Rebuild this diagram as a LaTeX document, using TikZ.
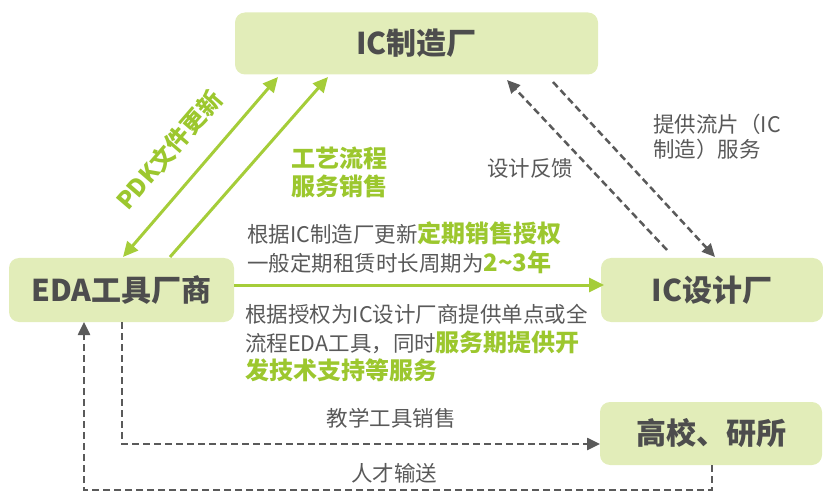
\documentclass[tikz,border=0pt]{standalone}
\usepackage{fontspec}
\setmainfont{Noto Sans CJK SC}
\usetikzlibrary{arrows.meta}
\definecolor{boxfill}{HTML}{E2EDB9}
\definecolor{grn}{HTML}{A5CD39}
\definecolor{gtext}{HTML}{9CC72E}
\definecolor{gry}{HTML}{595959}
\definecolor{boxtext}{HTML}{4D4D4D}
\definecolor{dline}{HTML}{5A5A5A}
\newcommand{\gbold}[1]{{\fontsize{24}{28}\selectfont\bfseries\color{gtext}#1}}
\begin{document}
\begin{tikzpicture}[x=1pt,y=-1pt,
  entity/.style={draw=none,fill=boxfill,rounded corners=10pt,inner sep=0pt,
    font=\fontsize{30}{34}\selectfont\bfseries,text=boxtext},
  lbl/.style={inner sep=0pt,font=\fontsize{21.5}{26}\selectfont,text=gry},
  gl/.style={inner sep=0pt,font=\fontsize{24}{28}\selectfont\bfseries,text=gtext},
  garrow/.style={draw=grn,line width=3pt,-{Triangle[length=15pt,width=14pt]}},
  darrow/.style={draw=dline,line width=2.5pt,dash pattern=on 7pt off 4pt,-{Triangle[length=13pt,width=12pt]}}]
\useasboundingbox (0,0) rectangle (823,492);
% boxes
\node[entity,minimum width=363pt,minimum height=62pt] (fab) at (416.5,43.5) {IC制造厂};
\node[entity,minimum width=225pt,minimum height=64pt] (eda) at (121.5,290) {EDA工具厂商};
\node[entity,minimum width=222pt,minimum height=64pt] (des) at (712,290) {IC设计厂};
\node[entity,minimum width=222pt,minimum height=63pt] (uni) at (711,433.5) {高校、研所};
% anchor coordinates
\coordinate (a1s) at (123,257);
\coordinate (a1e) at (278,77);
\coordinate (a2s) at (170,257);
\coordinate (a2e) at (328,77);
\coordinate (d1s) at (667,250);
\coordinate (d1e) at (507,80);
\coordinate (d2s) at (553,82);
\coordinate (d2e) at (715,257);
\coordinate (hs) at (234,285);
\coordinate (he) at (604,285);
\coordinate (t1s) at (122,322);
\coordinate (t1e) at (600,444);
\coordinate (t2s) at (712,465);
\coordinate (t2m) at (84,490);
\coordinate (t2e) at (84,322);
% green arrows
\draw[garrow,{Triangle[length=15pt,width=14pt]}-{Triangle[length=15pt,width=14pt]}] (a1s) -- (a1e);
\draw[garrow] (a2s) -- (a2e);
\draw[garrow] (hs) -- (he);
% dashed arrows
\draw[darrow] (d1s) -- (d1e);
\draw[darrow] (d2s) -- (d2e);
\draw[darrow] (t1s) |- (t1e);
\draw[darrow] (t2s) |- (t2m) -- (t2e);
% labels
\node[gl,rotate=49.3] (pdk) at (169,150) {PDK文件更新};
\node[gl,align=center,font=\fontsize{24}{28}\selectfont\bfseries] (gy) at (339,172) {工艺流程\\服务销售};
\node[lbl,anchor=west] (l1) at (247,233) {根据IC制造厂更新\gbold{定期销售授权}};
\node[lbl,anchor=west] (l2) at (247,262) {一般定期租赁时长周期为\gbold{2\textasciitilde 3年}};
\node[lbl,anchor=west] (l3) at (245,314) {根据授权为IC设计厂商提供单点或全};
\node[lbl,anchor=west] (l4) at (245,342) {流程EDA工具，同时\gbold{服务期提供开}};
\node[lbl,anchor=west] (l5) at (245,370) {\gbold{发技术支持等服务}};
\node[lbl] (fb) at (530,168) {设计反馈};
\node[lbl,anchor=west,align=left,font=\fontsize{21.5}{25}\selectfont] (lp) at (653,137) {提供流片（IC\\制造）服务};
\node[lbl] (jx) at (391,418) {教学工具销售};
\node[lbl] (rc) at (394,473) {人才输送};
\end{tikzpicture}
\end{document}
